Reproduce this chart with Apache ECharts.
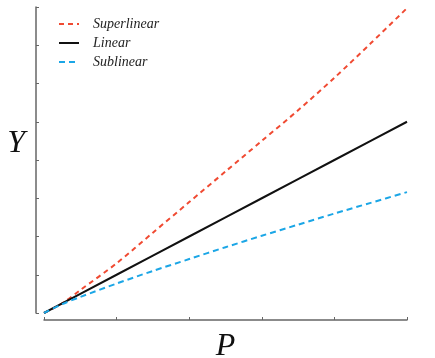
<!DOCTYPE html>
<html><head><meta charset="utf-8">
<script src="https://cdn.jsdelivr.net/npm/echarts@6/dist/echarts.min.js"></script>
<style>html,body{margin:0;padding:0;background:#fff}#c{width:435px;height:358px}</style>
</head><body><div id="c"></div>
<script>
var xValues = [0, 0.05, 0.1, 0.2, 0.3, 0.4, 0.5, 0.6, 0.7, 0.8, 0.9, 1.0];
var superlinear = [0, 0.25, 0.6, 1.3, 2.1, 2.9, 3.7, 4.5, 5.3, 6.15, 7.05, 7.97];
var linear = [0, 0.25, 0.5, 1.0, 1.5, 2.0, 2.5, 3.0, 3.5, 4.0, 4.5, 5.0];
var sublinear = [0, 0.23, 0.42, 0.77, 1.1, 1.41, 1.72, 2.02, 2.31, 2.6, 2.88, 3.16];
var seriesNames = ['Superlinear', 'Linear', 'Sublinear'];
var xTicks = [0, 0.2, 0.4, 0.6, 0.8, 1.0];
var yTicks = [0, 1, 2, 3, 4, 5, 6, 7, 8];

function pairs(ys){ return xValues.map(function(x,i){ return [x, ys[i]]; }); }
var axisCol = '#666';
var chart = echarts.init(document.getElementById('c'));
chart.setOption({
  animation: false,
  grid: {left: 44, right: 28, top: 7, bottom: 45, containLabel: false, outerBoundsMode: 'none'},
  legend: {
    orient: 'vertical', left: 53, top: 12, itemWidth: 20, itemHeight: 8, itemGap: 5,
    itemStyle: {color: 'rgba(0,0,0,0)', borderWidth: 0, opacity: 0},
    textStyle: {fontFamily: 'Liberation Serif', fontStyle: 'italic', fontSize: 14, color: '#222', padding: [0, 0, 0, 9]},
    data: seriesNames
  },
  xAxis: {
    type: 'value', min: xTicks[0], max: xTicks[xTicks.length-1], interval: 0.2, offset: 7,
    name: 'P', nameLocation: 'middle', nameGap: 11,
    nameTextStyle: {fontFamily: 'Liberation Serif', fontStyle: 'italic', fontSize: 32, color: '#111'},
    axisLine: {show: true, onZero: false, lineStyle: {color: axisCol, width: 1.5}},
    axisTick: {show: true, inside: true, length: 3, lineStyle: {color: axisCol, width: 1}},
    axisLabel: {show: false}, splitLine: {show: false}
  },
  yAxis: {
    type: 'value', min: yTicks[0], max: yTicks[yTicks.length-1], interval: 1, offset: 8,
    name: 'Y', nameLocation: 'middle', nameGap: 11, nameRotate: 0,
    nameTextStyle: {fontFamily: 'Liberation Serif', fontStyle: 'italic', fontSize: 32, color: '#111', verticalAlign: 'bottom'},
    axisLine: {show: true, onZero: false, lineStyle: {color: axisCol, width: 1.5}},
    axisTick: {show: true, inside: true, length: 3, lineStyle: {color: axisCol, width: 1}},
    axisLabel: {show: false}, splitLine: {show: false}
  },
  series: [
    {name: seriesNames[0], type: 'line', data: pairs(superlinear), symbol: 'none', smooth: 0.3,
     lineStyle: {color: '#f04a32', width: 2, type: [5, 4]}, itemStyle: {color: '#f04a32'}},
    {name: seriesNames[1], type: 'line', data: pairs(linear), symbol: 'none',
     lineStyle: {color: '#111', width: 2}, itemStyle: {color: '#111'}},
    {name: seriesNames[2], type: 'line', data: pairs(sublinear), symbol: 'none', smooth: 0.3,
     lineStyle: {color: '#1ba6e6', width: 2, type: [6, 4]}, itemStyle: {color: '#1ba6e6'}}
  ]
});
</script></body></html>
